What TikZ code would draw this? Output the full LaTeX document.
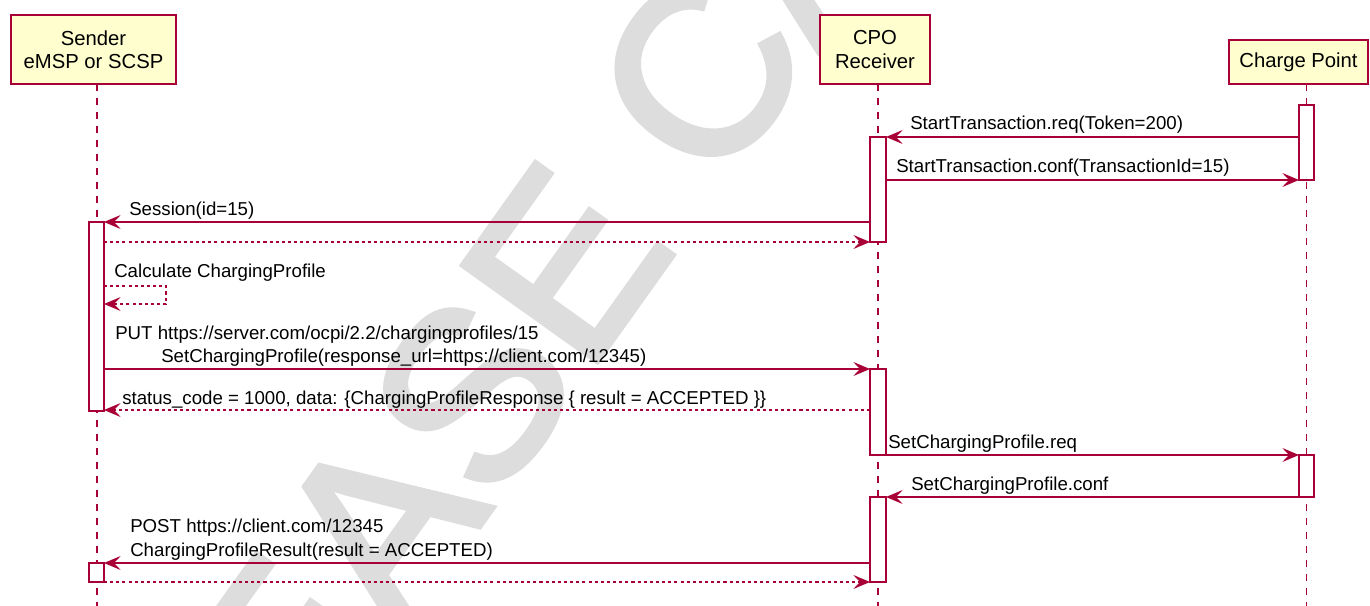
\documentclass[tikz,border=0pt]{standalone}
\usepackage{fontspec}
\setmainfont{Liberation Sans}
\newfontfamily\wmfont[FakeBold=2.5]{Liberation Sans}
\usetikzlibrary{arrows.meta}
\definecolor{puml}{HTML}{A80036}
\definecolor{pbox}{HTML}{FEFECE}
\definecolor{wmgray}{HTML}{DDDDDD}
\newcommand{\actbox}[5]{\node[act,anchor=north west,minimum width={(#4)*0.75pt},minimum height={(#5)*0.75pt}] (#1) at (#2,#3) {};}
\begin{document}
\begin{tikzpicture}[x=0.75pt,y=-0.75pt,
  part/.style={draw=puml, fill=pbox, line width=1.7pt, align=center, inner sep=0pt, outer sep=0pt,
    font=\fontsize{15.2}{17.6}\selectfont},
  life/.style={draw=puml, line width=0.9pt, dash pattern=on 5pt off 5.5pt},
  act/.style={draw=puml, fill=white, line width=1.1pt, inner sep=0pt, outer sep=0pt},
  msg/.style={draw=puml, line width=1pt, -{Stealth[length=12.5pt,width=10.5pt,inset=5pt]}},
  ret/.style={msg, dash pattern=on 2.3pt off 2.3pt},
  lbl/.style={anchor=base west, inner sep=0pt, font=\fontsize{14}{17.25}\selectfont},
  wmark/.style={text=wmgray, inner sep=0pt, font=\wmfont\fontsize{180}{180}\selectfont},
]
\useasboundingbox (0,0) rectangle (1370,606);
\begin{scope}
\clip (0,0) rectangle (1370,606);
\node[wmark, rotate=54.5] (wm) at (707,65) {RELEASE CANDIDATE};
\end{scope}

% participants
\node[part, minimum width=123.75pt, minimum height=51.75pt] (snd) at (93.5,49.5) {Sender\\eMSP or SCSP};
\node[part, minimum width=82.5pt, minimum height=51.75pt] (cpo) at (875,49.5) {CPO\\Receiver};
\node[part, minimum width=104.25pt, minimum height=33pt] (cp) at (1298.5,62) {Charge Point};

% lifelines
\coordinate (sndEnd) at (97,606);
\coordinate (cpoEnd) at (878,606);
\coordinate (cpEnd) at (1306.5,606);
\draw[life] (sndEnd |- snd.south) -- (sndEnd);
\draw[life] (cpoEnd |- cpo.south) -- (cpoEnd);
\draw[life] (cpEnd |- cp.south) -- (cpEnd);

% activations
\actbox{cpA1}{1299}{105}{15}{75}
\actbox{cpoA1}{870}{137}{16}{105}
\actbox{sndA1}{89}{222}{15}{189}
\actbox{cpoA2}{870}{369}{16}{86}
\actbox{cpA2}{1299}{455}{15}{42}
\actbox{cpoA3}{870}{497}{16}{85}
\actbox{sndA2}{89}{563}{15}{19}

% messages
\draw[msg] (cpA1.west |- 0,137) -- (cpoA1.east |- 0,137);
\node[lbl] (l1) at (910,130) {StartTransaction.req(Token=200)};

\draw[msg] (cpoA1.east |- 0,180) -- (cpA1.west |- 0,180);
\node[lbl] (l2) at (896,173) {StartTransaction.conf(TransactionId=15)};

\draw[msg] (cpoA1.west |- 0,222) -- (sndA1.east |- 0,222);
\node[lbl] (l3) at (129,215) {Session(id=15)};

\draw[ret] (sndA1.east |- 0,242) -- (cpoA1.west |- 0,242);

\coordinate (loop) at (166,295);
\draw[ret] (sndA1.east |- 0,286) -| (loop) |- (sndA1.east |- 0,304);
\node[lbl] (l5) at (114,277) {Calculate ChargingProfile};

\draw[msg] (sndA1.east |- 0,369) -- (cpoA2.west |- 0,369);
\node[lbl] (l6a) at (115,339) {PUT https://server.com/ocpi/2.2/chargingprofiles/15};
\node[lbl] (l6b) at (161,362) {SetChargingProfile(response\_url=https://client.com/12345)};

\draw[ret] (cpoA2.west |- 0,410) -- (sndA1.east |- 0,410);
\node[lbl] (l7) at (122,404) {status\_code = 1000, data: \{ChargingProfileResponse \{ result = ACCEPTED \}\}};

\draw[msg] (cpoA2.east |- 0,455) -- (cpA2.west |- 0,455);
\node[lbl] (l8) at (888,448) {SetChargingProfile.req};

\draw[msg] (cpA2.west |- 0,497) -- (cpoA3.east |- 0,497);
\node[lbl] (l9) at (911,490) {SetChargingProfile.conf};

\draw[msg] (cpoA3.west |- 0,563) -- (sndA2.east |- 0,563);
\node[lbl] (l10a) at (130,532) {POST https://client.com/12345};
\node[lbl] (l10b) at (130,556) {ChargingProfileResult(result = ACCEPTED)};

\draw[ret] (sndA2.east |- 0,582) -- (cpoA3.west |- 0,582);
\end{tikzpicture}
\end{document}
